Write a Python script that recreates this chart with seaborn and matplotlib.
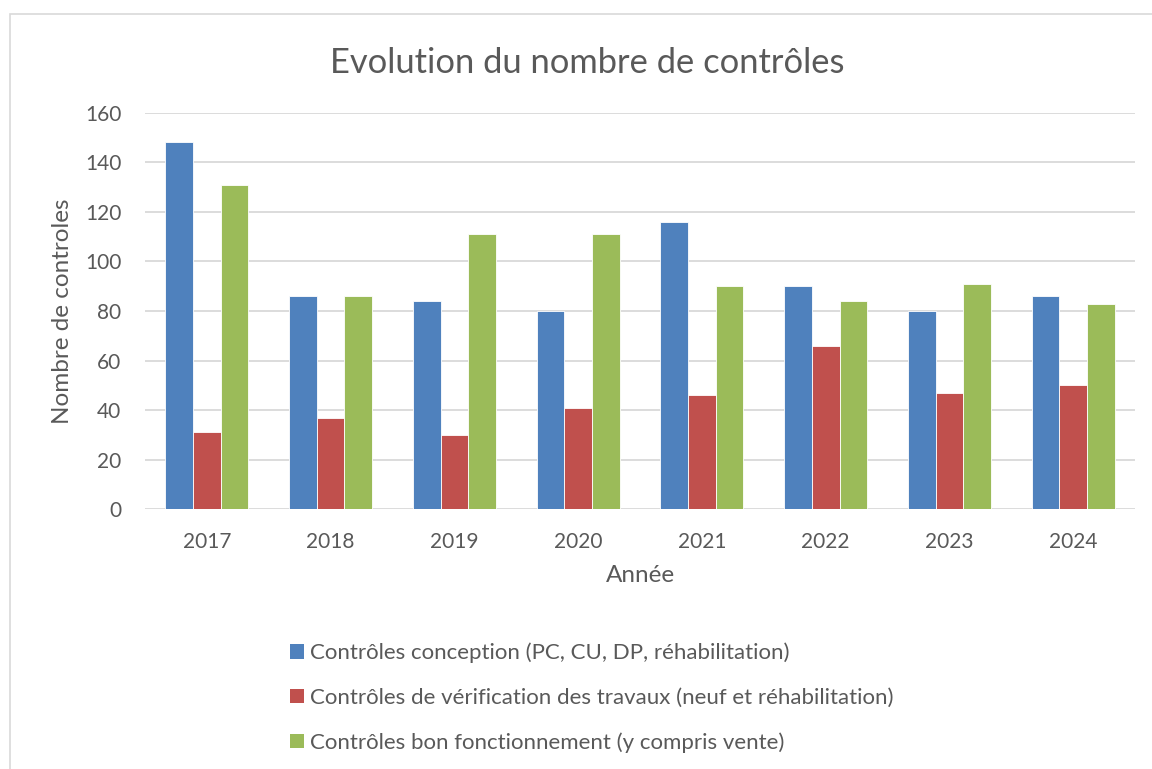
import matplotlib
matplotlib.use("Agg")
import matplotlib.pyplot as plt
from matplotlib.patches import Rectangle, Patch
import seaborn as sns
import pandas as pd

annees = ["2017", "2018", "2019", "2020", "2021", "2022", "2023", "2024"]
conception = [148, 86, 84, 80, 116, 90, 80, 86]
verification = [31, 37, 30, 41, 46, 66, 47, 50]
fonctionnement = [131, 86, 111, 111, 90, 84, 91, 83]
series = [
    "Contrôles conception (PC, CU, DP, réhabilitation)",
    "Contrôles de vérification des travaux (neuf et réhabilitation)",
    "Contrôles bon fonctionnement (y compris vente)",
]
couleurs = ["#4F81BD", "#C0504D", "#9BBB59"]

df = pd.DataFrame({
    "Année": annees * 3,
    "valeur": conception + verification + fonctionnement,
    "serie": [series[0]] * 8 + [series[1]] * 8 + [series[2]] * 8,
})

sns.set_style("white")
plt.rcParams["font.family"] = ["Lato", "DejaVu Sans"]
texte = "#595959"

fig = plt.figure(figsize=(11.52, 7.69), dpi=100)
ax = fig.add_axes([0.1259, 0.3377, 0.8594, 0.5157])

sns.barplot(data=df, x="Année", y="valeur", hue="serie", palette=couleurs,
            saturation=1, width=0.67, gap=0, dodge=True, ax=ax, legend=False,
            edgecolor="white", linewidth=0.6, zorder=3)

ax.set_ylim(0, 160)
ax.set_yticks(range(0, 161, 20))
ax.yaxis.grid(True, color="#D9D9D9", linewidth=1.3, zorder=0)
ax.set_axisbelow(True)
for s in ax.spines.values():
    s.set_visible(False)
ax.tick_params(axis="both", length=0, labelsize=15, labelcolor=texte)
ax.tick_params(axis="y", pad=17)
ax.tick_params(axis="x", pad=16)

ax.set_xlabel("Année", fontsize=17.5, color=texte, labelpad=10)
ax.set_ylabel("Nombre de controles", fontsize=17.5, color=texte, labelpad=9)
fig.text(0.51, 0.918, "Evolution du nombre de contrôles", ha="center", va="center",
         fontsize=24.8, color=texte)

handles = [Patch(facecolor=c, edgecolor="none") for c in couleurs]
fig.legend(handles, series, loc="upper left", bbox_to_anchor=(0.2517, 0.164),
           frameon=False, fontsize=16, labelcolor=texte, handlelength=0.62,
           handleheight=0.62, handletextpad=0.3, labelspacing=1.1,
           borderaxespad=0, borderpad=0)

fig.patches.append(Rectangle((10 / 1152, -0.05), 1.2, 1 - 14 / 769 + 0.05,
                             transform=fig.transFigure, fill=False,
                             edgecolor="#D9D9D9", linewidth=1.2))

fig.savefig("out.png", dpi=100)
